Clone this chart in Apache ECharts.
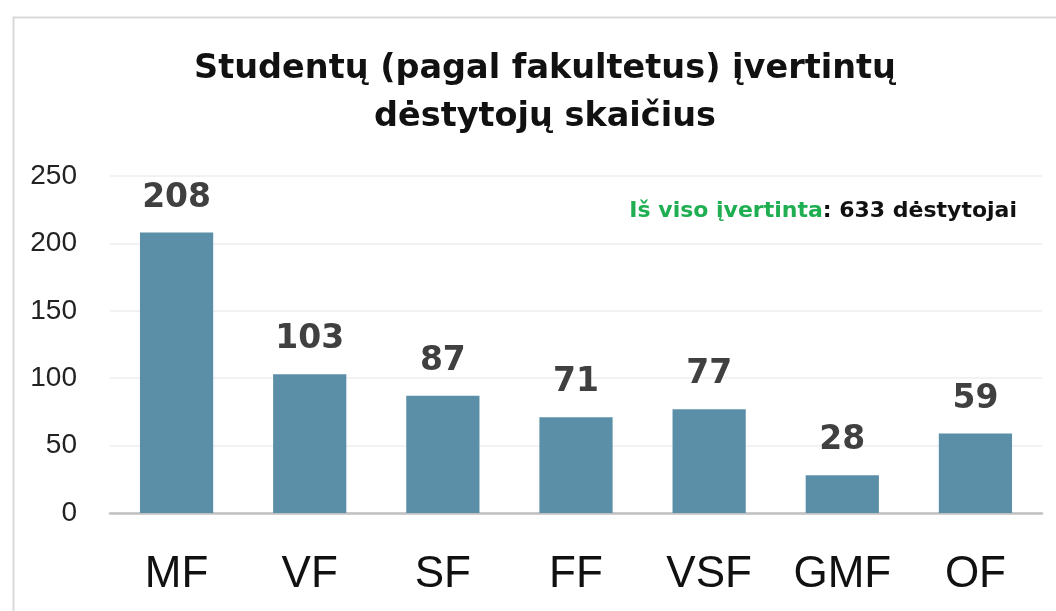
<!DOCTYPE html>
<html>
<head>
<meta charset="utf-8">
<script src="https://cdn.jsdelivr.net/npm/echarts@6/dist/echarts.min.js"></script>
<style>
	html,body{margin:0;padding:0;background:#fff;}
	#main{width:1056px;height:611px;}
</style>
</head>
<body>
<div id="main"></div>
<script>
//---- DATA
var fakultetai	= ['MF','VF','SF','FF','VSF','GMF','OF'];
var destytojai	= [208,103,87,71,77,28,59];
var yTicks		= [0,50,100,150,200,250];
var pavadinimas	= 'Studentų (pagal fakultetus) įvertintų\ndėstytojų skaičius';
var isVisoTxt	= 'Iš viso įvertinta';
var isVisoSk	= '633 dėstytojai';

var myChart = echarts.init(document.getElementById('main'));
var baseFont = 'Liberation Sans, Arial, sans-serif';
var boldFont = 'DejaVu Sans, sans-serif';

var option = {
	animation: false,
	backgroundColor: '#fff',
	title: {
		text: pavadinimas,
		left: 540,
		textAlign: 'center',
		top: 40,
		textStyle: {
			fontFamily: boldFont,
			fontSize: 33.5,
			fontWeight: 'bold',
			lineHeight: 48,
			color: '#111'
		}
	},
	graphic: [{
		type: 'rect',
		left: 11, top: 15,
		shape: {width: 1100, height: 700},
		style: {fill: null, stroke: '#d9d9d9', lineWidth: 2},
		silent: true
	},{
		type: 'text',
		right: 39, top: 200,
		style: {
			text: '{g|' + isVisoTxt + '}{k|: ' + isVisoSk + '}',
			rich: {
				g: {fontFamily: boldFont, fontSize: 22, fontWeight: 'bold', fill: '#1fae52'},
				k: {fontFamily: boldFont, fontSize: 22, fontWeight: 'bold', fill: '#111'}
			}
		}
	}],
	grid: {left: 110, right: 14, top: 176, bottom: 98, containLabel: false},
	xAxis: {
		type: 'category',
		data: fakultetai,
		axisLine: {lineStyle: {color: '#c0c0c0', width: 2.5}},
		axisTick: {show: false},
		axisLabel: {
			fontFamily: baseFont,
			fontSize: 44,
			color: '#111',
			margin: 40
		}
	},
	yAxis: {
		type: 'value',
		min: 0, max: 250, interval: 50,
		axisLine: {show: false},
		axisTick: {show: false},
		splitLine: {lineStyle: {color: '#eeeeee', width: 1.5}},
		axisLabel: {
			fontFamily: baseFont,
			fontSize: 28,
			color: '#222',
			margin: 33,
			formatter: function(v){ return yTicks.indexOf(v) >= 0 ? String(v) : ''; }
		}
	},
	series: [{
		type: 'bar',
		data: destytojai,
		barWidth: '55%',
		itemStyle: {color: '#5b8fa8'},
		label: {
			show: true,
			position: 'top',
			distance: 18,
			fontFamily: boldFont,
			fontSize: 33,
			fontWeight: 'bold',
			color: '#404040'
		}
	}]
};

myChart.setOption(option);
</script>
</body>
</html>
